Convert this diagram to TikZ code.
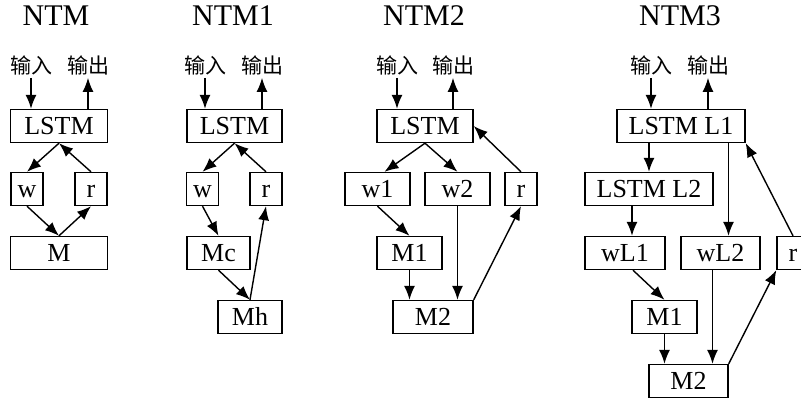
\documentclass[tikz,border=0pt]{standalone}
\usepackage{fontspec}
\setmainfont{Liberation Serif}
\newfontfamily\cjk{Noto Sans CJK SC}
\usetikzlibrary{arrows.meta}

\tikzset{
  box/.style={draw, line width=1.4pt, minimum height=33pt, inner sep=0pt,
    text height=17.5pt, text depth=0pt, font=\fontsize{26}{30}\selectfont},
  title/.style={anchor=base, inner sep=0pt, font=\fontsize{30}{36}\selectfont},
  io/.style={anchor=base, inner sep=2pt, font=\cjk\fontsize{21}{25}\selectfont},
  arr/.style={-{Latex[length=14pt,width=11pt]}, line width=1.4pt}
}

\begin{document}
\begin{tikzpicture}[x=1pt,y=-1pt]
\clip (0,0) rectangle (801,398);
%% NTM
\node[title] (a-title) at (56,26) {NTM};
\node[io] (a-in) at (31,74) {输入};
\node[io] (a-out) at (88,74) {输出};
\node[box, minimum width=97pt] (a-lstm) at (59,126) {LSTM};
\node[box, minimum width=32pt] (a-w) at (27,189) {w};
\node[box, minimum width=32pt] (a-r) at (91,189) {r};
\node[box, minimum width=97pt] (a-m) at (59,253) {M};

%% NTM1
\node[title] (b-title) at (233,26) {NTM1};
\node[io] (b-in) at (205,74) {输入};
\node[io] (b-out) at (262,74) {输出};
\node[box, minimum width=95pt] (b-lstm) at (234.5,126) {LSTM};
\node[box, minimum width=32pt] (b-w) at (202.5,189) {w};
\node[box, minimum width=32pt] (b-r) at (266,189) {r};
\node[box, minimum width=63pt] (b-mc) at (218.5,253) {Mc};
\node[box, minimum width=64pt] (b-mh) at (250,317) {Mh};

%% NTM2
\node[title] (c-title) at (424,26) {NTM2};
\node[io] (c-in) at (397,74) {输入};
\node[io] (c-out) at (453,74) {输出};
\node[box, minimum width=96pt] (c-lstm) at (425,126) {LSTM};
\node[box, minimum width=65pt] (c-w1) at (377.5,189) {w1};
\node[box, minimum width=65pt] (c-w2) at (457.5,189) {w2};
\node[box, minimum width=32pt] (c-r) at (521,189) {r};
\node[box, minimum width=65pt] (c-m1) at (409.5,253) {M1};
\node[box, minimum width=80pt] (c-m2) at (433,317) {M2};

%% NTM3
\node[title] (d-title) at (680,26) {NTM3};
\node[io] (d-in) at (651,74) {输入};
\node[io] (d-out) at (708,74) {输出};
\node[box, minimum width=128pt] (d-l1) at (681,126) {LSTM L1};
\node[box, minimum width=128pt] (d-l2) at (649,189) {LSTM L2};
\node[box, minimum width=80pt] (d-wl1) at (625,253) {wL1};
\node[box, minimum width=79pt] (d-wl2) at (720.5,253) {wL2};
\node[box, minimum width=32pt] (d-r) at (793,253) {r};
\node[box, minimum width=65pt] (d-m1) at (664.5,317) {M1};
\node[box, minimum width=79pt] (d-m2) at (688.5,381) {M2};
\coordinate (d-u) at ([xshift=7pt]d-wl1.north);
\coordinate (d-t) at ([xshift=8pt]d-wl2.north);
\coordinate (d-v) at ([xshift=-8pt]d-wl2.south);

%% edges
\foreach \p in {a,b,c} {
  \draw[arr] (\p-in) to (\p-in |- \p-lstm.north);
  \draw[arr] (\p-out |- \p-lstm.north) to (\p-out);
}
\draw[arr] (d-in) to (d-in |- d-l1.north);
\draw[arr] (d-out |- d-l1.north) to (d-out);

\draw[arr] (a-lstm.south) to (a-w.north);
\draw[arr] (a-r.north) to (a-lstm.south);
\draw[arr] (a-w.south) to (a-m.north);
\draw[arr] (a-m.north) to (a-r.south);

\draw[arr] (b-lstm.south) to (b-w.north);
\draw[arr] (b-r.north) to (b-lstm.south);
\draw[arr] (b-w.south) to (b-mc.north);
\draw[arr] (b-mc.south) to (b-mh.north);
\draw[arr] (b-mh.north) to (b-r.south);

\draw[arr] (c-lstm.south) to ([xshift=7pt]c-w1.north);
\draw[arr] (c-lstm.south) to (c-w2.north);
\draw[arr] (c-r.north) to (c-lstm.east);
\draw[arr] (c-w1.south) to (c-m1.north);
\draw[arr] (c-m1.south) to (c-m1.south |- c-m2.north);
\draw[arr] (c-w2.south) to (c-w2.south |- c-m2.north);
\draw[arr] (c-m2.north east) to (c-r.south);

\draw[arr] (d-l2.north |- d-l1.south) to (d-l2.north);
\draw[arr] (d-t |- d-l1.south) to (d-t);
\draw[arr] (d-r.north) to (d-l1.south east);
\draw[arr] (d-u |- d-l2.south) to (d-u);
\draw[arr] ([xshift=8pt]d-wl1.south) to (d-m1.north);
\draw[arr] (d-m1.south) to (d-m1.south |- d-m2.north);
\draw[arr] (d-v) to (d-v |- d-m2.north);
\draw[arr] (d-m2.north east) to (d-r.south west);
\end{tikzpicture}
\end{document}
